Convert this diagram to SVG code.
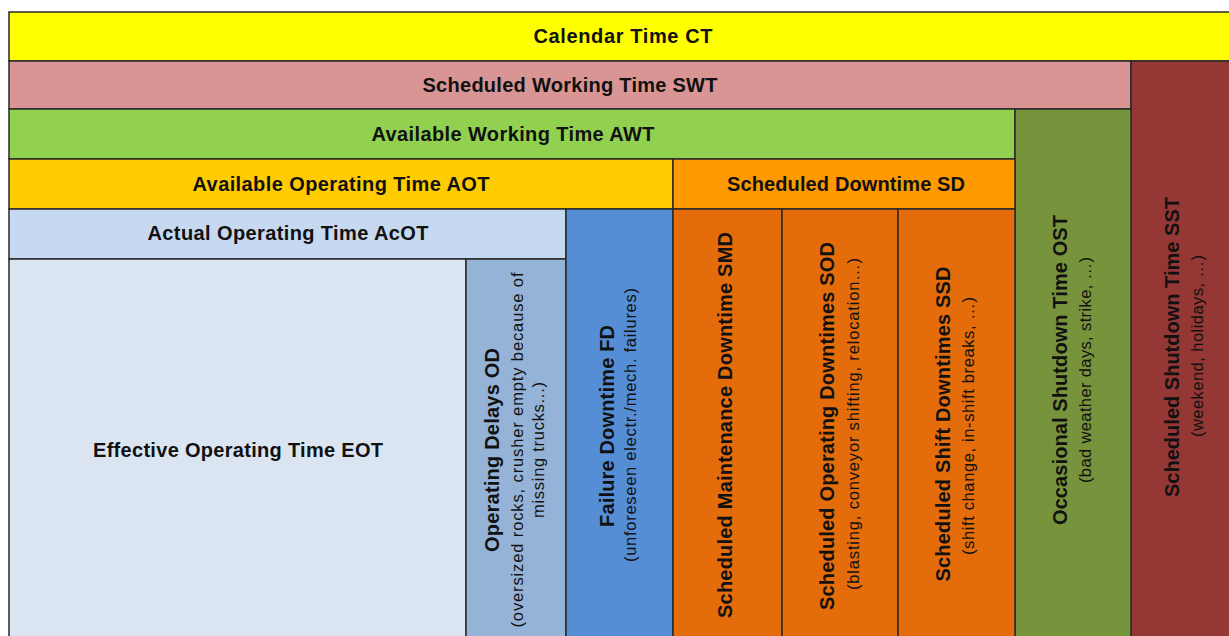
<svg xmlns="http://www.w3.org/2000/svg" width="1229" height="636" viewBox="0 0 1229 636">
  <style>
    .box { stroke: #2a2a2a; stroke-width: 1.5; }
    .h { font-family: "Liberation Sans", Arial, sans-serif; font-weight: bold; font-size: 20px; fill: #111; text-anchor: middle; }
    .v { font-family: "Liberation Sans", Arial, sans-serif; font-weight: bold; font-size: 20px; fill: #111; text-anchor: middle; }
    .s { font-family: "Liberation Sans", Arial, sans-serif; font-size: 16.5px; fill: #111; text-anchor: middle; }
  </style>
  <rect width="1229" height="636" fill="#ffffff"/>

  <!-- top-level bands -->
  <g id="ct">
    <rect class="box" x="9" y="12" width="1235" height="49" fill="#FFFF00"/>
    <text class="h" x="623" y="43" textLength="179" lengthAdjust="spacing">Calendar Time CT</text>
  </g>
  <g id="swt">
    <rect class="box" x="9" y="61" width="1122" height="48" fill="#D99594"/>
    <text class="h" x="570" y="92" textLength="295" lengthAdjust="spacing">Scheduled Working Time SWT</text>
  </g>
  <g id="sst">
    <rect class="box" x="1131" y="61" width="110" height="580" fill="#953735"/>
    <text class="v" transform="translate(1179,347) rotate(-90)" textLength="300" lengthAdjust="spacing">Scheduled Shutdown Time SST</text>
    <text class="s" transform="translate(1203,346) rotate(-90)" textLength="182" lengthAdjust="spacing">(weekend, holidays, …)</text>
  </g>
  <g id="awt">
    <rect class="box" x="9" y="109" width="1006" height="50" fill="#92D050"/>
    <text class="h" x="513" y="141" textLength="283" lengthAdjust="spacing">Available Working Time AWT</text>
  </g>
  <g id="ost">
    <rect class="box" x="1015" y="109" width="116" height="532" fill="#77933C"/>
    <text class="v" transform="translate(1067,370) rotate(-90)" textLength="310" lengthAdjust="spacing">Occasional Shutdown Time OST</text>
    <text class="s" transform="translate(1091,370) rotate(-90)" textLength="226" lengthAdjust="spacing">(bad weather days, strike, …)</text>
  </g>

  <!-- operating time breakdown -->
  <g id="aot">
    <rect class="box" x="9" y="159" width="664" height="50" fill="#FFCC00"/>
    <text class="h" x="341" y="191" textLength="297" lengthAdjust="spacing">Available Operating Time AOT</text>
  </g>
  <g id="sd">
    <rect class="box" x="673" y="159" width="342" height="50" fill="#FF9900"/>
    <text class="h" x="846" y="191" textLength="238" lengthAdjust="spacing">Scheduled Downtime SD</text>
  </g>
  <g id="acot">
    <rect class="box" x="9" y="209" width="557" height="50" fill="#C6D9F0"/>
    <text class="h" x="288" y="240" textLength="281" lengthAdjust="spacing">Actual Operating Time AcOT</text>
  </g>
  <g id="eot">
    <rect class="box" x="9" y="259" width="457" height="382" fill="#DBE5F1"/>
    <text class="h" x="238" y="457" textLength="290" lengthAdjust="spacing">Effective Operating Time EOT</text>
  </g>
  <g id="od">
    <rect class="box" x="466" y="259" width="100" height="382" fill="#95B3D7"/>
    <text class="v" transform="translate(499,450) rotate(-90)" textLength="204" lengthAdjust="spacing">Operating Delays OD</text>
    <text class="s" transform="translate(523,450) rotate(-90)" textLength="355" lengthAdjust="spacing">(oversized rocks, crusher empty because of</text>
    <text class="s" transform="translate(544,450) rotate(-90)" textLength="136" lengthAdjust="spacing">missing trucks...)</text>
  </g>
  <g id="fd">
    <rect class="box" x="566" y="209" width="107" height="432" fill="#558ED5"/>
    <text class="v" transform="translate(614,426) rotate(-90)" textLength="202" lengthAdjust="spacing">Failure Downtime FD</text>
    <text class="s" transform="translate(636,425) rotate(-90)" textLength="274" lengthAdjust="spacing">(unforeseen electr./mech. failures)</text>
  </g>

  <!-- scheduled downtime breakdown -->
  <g id="smd">
    <rect class="box" x="673" y="209" width="109" height="432" fill="#E46C0A"/>
    <text class="v" transform="translate(732,425) rotate(-90)" textLength="386" lengthAdjust="spacing">Scheduled Maintenance Downtime SMD</text>
  </g>
  <g id="sod">
    <rect class="box" x="782" y="209" width="116" height="432" fill="#E46C0A"/>
    <text class="v" transform="translate(834,426) rotate(-90)" textLength="368" lengthAdjust="spacing">Scheduled Operating Downtimes SOD</text>
    <text class="s" transform="translate(859,424) rotate(-90)" textLength="332" lengthAdjust="spacing">(blasting, conveyor shifting, relocation…)</text>
  </g>
  <g id="ssd">
    <rect class="box" x="898" y="209" width="117" height="432" fill="#E46C0A"/>
    <text class="v" transform="translate(950,424) rotate(-90)" textLength="315" lengthAdjust="spacing">Scheduled Shift Downtimes SSD</text>
    <text class="s" transform="translate(974,426) rotate(-90)" textLength="258" lengthAdjust="spacing">(shift change, in-shift breaks, …)</text>
  </g>
</svg>
